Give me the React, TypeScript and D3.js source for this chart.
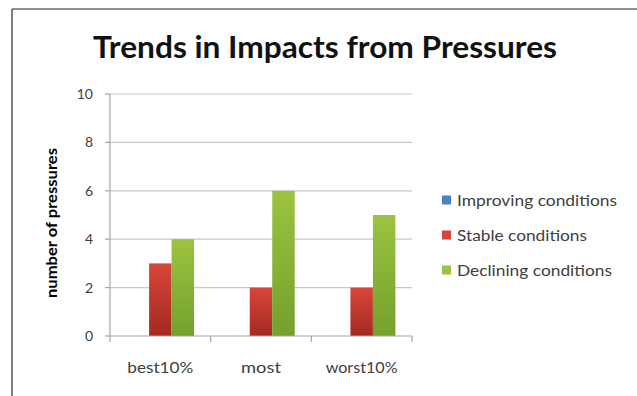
import { FC, useRef, useEffect } from 'react'
import * as d3 from 'd3'

const categories = ['best10%', 'most', 'worst10%']
const seriesNames = ['Improving conditions', 'Stable conditions', 'Declining conditions']
const improving = [0, 0, 0]
const stable = [3, 2, 2]
const declining = [4, 6, 5]
const yTicks = [0, 2, 4, 6, 8, 10]

const App: FC = () => {
  const svgRef = useRef<SVGSVGElement>(null)

  useEffect(() => {
    if (!svgRef.current) return
    const svg = d3.select(svgRef.current)
    svg.selectAll('*').remove()

    const width = 637
    const height = 396
    const font = 'Lato, "Open Sans", sans-serif'
    svg.attr('width', width).attr('height', height)

    const defs = svg.append('defs')
    const gradColors = [
      ['#4f81bd', '#385d8a'],
      ['#d8463a', '#a3291f'],
      ['#9cc440', '#74a02c'],
    ]
    gradColors.forEach((c, i) => {
      const lg = defs.append('linearGradient')
        .attr('id', `grad${i}`)
        .attr('x1', 0).attr('y1', 0).attr('x2', 0).attr('y2', 1)
      lg.append('stop').attr('offset', '0%').attr('stop-color', c[0])
      lg.append('stop').attr('offset', '100%').attr('stop-color', c[1])
    })

    // frame
    svg.append('rect').attr('width', width).attr('height', height).attr('fill', '#fff')
    svg.append('line').attr('x1', 12).attr('x2', width).attr('y1', 9).attr('y2', 9)
      .attr('stroke', '#6a6a6a').attr('stroke-width', 1.5)
    svg.append('line').attr('x1', 12).attr('x2', 12).attr('y1', 9).attr('y2', height)
      .attr('stroke', '#555').attr('stroke-width', 1.5)

    svg.append('text')
      .attr('x', 325).attr('y', 58)
      .attr('text-anchor', 'middle')
      .attr('font-family', font)
      .attr('font-weight', 'bold')
      .attr('font-size', '31px')
      .attr('fill', '#111')
      .attr('textLength', 464)
      .attr('lengthAdjust', 'spacingAndGlyphs')
      .text('Trends in Impacts from Pressures')

    const margin = { left: 110, right: 412, top: 94, bottom: 336 }

    const x = d3.scaleBand().domain(categories).range([margin.left, margin.right]).paddingInner(0).paddingOuter(0)
    const y = d3.scaleLinear().domain([0, 10]).range([margin.bottom, margin.top])

    // gridlines
    svg.append('g').selectAll('line')
      .data(yTicks.filter(d => d > 0))
      .join('line')
      .attr('x1', margin.left).attr('x2', margin.right)
      .attr('y1', d => y(d)).attr('y2', d => y(d))
      .attr('stroke', '#c8c8c8').attr('stroke-width', 1.2)

    const series = [improving, stable, declining]
    const groupPad = x.bandwidth() * 0.33 / 2
    const inner = d3.scaleBand().domain(['0', '1', '2'])
      .range([groupPad, x.bandwidth() - groupPad])

    series.forEach((vals, si) => {
      svg.append('g').selectAll('rect')
        .data(vals.map((v, i) => ({ v, c: categories[i] })))
        .join('rect')
        .attr('x', d => (x(d.c) || 0) + (inner(String(si)) || 0))
        .attr('y', d => y(d.v))
        .attr('width', inner.bandwidth())
        .attr('height', d => y(0) - y(d.v))
        .attr('fill', `url(#grad${si})`)
    })

    // y axis
    const yAxis = svg.append('g')
    yAxis.append('line')
      .attr('x1', margin.left).attr('x2', margin.left)
      .attr('y1', margin.top).attr('y2', margin.bottom)
      .attr('stroke', '#a6a6a6').attr('stroke-width', 1.2)
    yAxis.selectAll('.tick')
      .data(yTicks)
      .join('line')
      .attr('x1', margin.left - 5).attr('x2', margin.left)
      .attr('y1', d => y(d)).attr('y2', d => y(d))
      .attr('stroke', '#a6a6a6').attr('stroke-width', 1.2)
    yAxis.selectAll('text')
      .data(yTicks)
      .join('text')
      .attr('x', margin.left - 17)
      .attr('y', d => y(d))
      .attr('dy', '0.35em')
      .attr('text-anchor', 'end')
      .attr('font-family', font)
      .attr('font-size', '14px')
      .attr('fill', '#404040')
      .text(d => d)

    // x axis
    const xAxis = svg.append('g')
    xAxis.append('line')
      .attr('x1', margin.left).attr('x2', margin.right)
      .attr('y1', margin.bottom).attr('y2', margin.bottom)
      .attr('stroke', '#a6a6a6').attr('stroke-width', 1.2)
    const edges = categories.map(c => x(c) || 0).concat([margin.right])
    xAxis.selectAll('.tick')
      .data(edges)
      .join('line')
      .attr('x1', d => d).attr('x2', d => d)
      .attr('y1', margin.bottom).attr('y2', margin.bottom + 6)
      .attr('stroke', '#a6a6a6').attr('stroke-width', 1.2)
    const xLabelWidths = [66, 40, 72]
    xAxis.selectAll('text')
      .data(categories)
      .join('text')
      .attr('x', d => (x(d) || 0) + x.bandwidth() / 2)
      .attr('y', 368)
      .attr('dy', '0.35em')
      .attr('text-anchor', 'middle')
      .attr('font-family', font)
      .attr('font-size', '15px')
      .attr('fill', '#404040')
      .attr('textLength', (_, i) => xLabelWidths[i])
      .attr('lengthAdjust', 'spacingAndGlyphs')
      .text(d => d)

    svg.append('text')
      .attr('transform', 'translate(52,223) rotate(-90)')
      .attr('dy', '0.35em')
      .attr('text-anchor', 'middle')
      .attr('font-family', font)
      .attr('font-weight', 'bold')
      .attr('font-size', '15px')
      .attr('fill', '#000')
      .attr('textLength', 150)
      .attr('lengthAdjust', 'spacingAndGlyphs')
      .text('number of pressures')

    // legend
    const legendWidths = [160, 130, 155]
    const legend = svg.append('g')
    seriesNames.forEach((name, i) => {
      const ly = 200 + i * 35
      legend.append('rect')
        .attr('x', 442).attr('y', ly - 4.5).attr('width', 9).attr('height', 9)
        .attr('fill', gradColors[i][0])
      legend.append('text')
        .attr('x', 457).attr('y', ly)
        .attr('dy', '0.35em')
        .attr('font-family', font)
        .attr('font-size', '16px')
        .attr('fill', '#404040')
        .attr('textLength', legendWidths[i])
        .attr('lengthAdjust', 'spacingAndGlyphs')
        .text(name)
    })
  }, [])

  return (
    <div style={{ position: 'absolute', left: 0, top: 0 }}>
      <svg ref={svgRef} style={{ display: 'block' }} />
    </div>
  )
}

export default App
